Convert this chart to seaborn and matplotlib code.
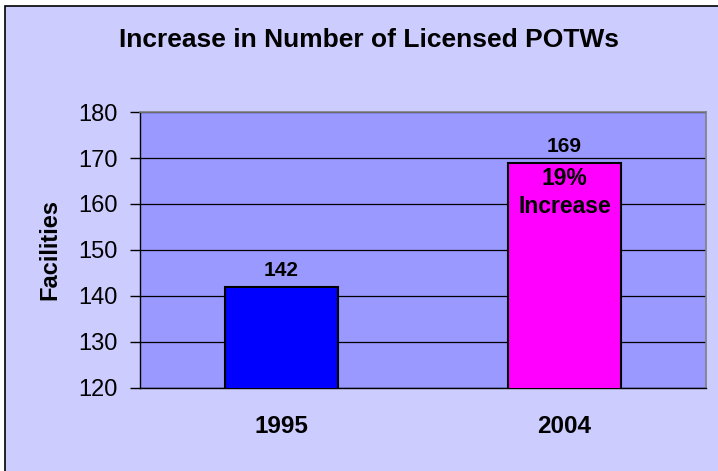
import pandas as pd
import matplotlib.pyplot as plt
import matplotlib.patches as mpatches
import seaborn as sns

years = ["1995", "2004"]
facilities = [142, 169]
bar_colors = ["#0000FF", "#FF00FF"]
note = "19%\nIncrease"

df = pd.DataFrame({"Year": years, "Facilities": facilities})

sns.set_style("white")
plt.rcParams["font.family"] = ["Liberation Sans", "DejaVu Sans"]
plt.rcParams["text.color"] = "black"
plt.rcParams["axes.labelcolor"] = "black"
plt.rcParams["xtick.color"] = "black"
plt.rcParams["ytick.color"] = "black"

fig = plt.figure(figsize=(7.18, 4.71), dpi=100, facecolor="white")
# outer chart frame
fig.patches.append(mpatches.Rectangle((5 / 718, -0.1), 1.2, 1 - 6 / 471 + 0.1,
                                      transform=fig.transFigure, facecolor="#CCCCFF",
                                      edgecolor="black", linewidth=1.2, zorder=-5))
ax = fig.add_axes([140 / 718, 1 - 388 / 471, 566 / 718, 276 / 471])
ax.set_facecolor("#9999FF")

sns.barplot(data=df, x="Year", y="Facilities", hue="Year", palette=bar_colors,
            saturation=1, width=0.4, edgecolor="black", linewidth=1.5,
            legend=False, ax=ax, zorder=3)

ax.set_ylim(120, 180)
ax.set_yticks(range(120, 181, 10))
ax.yaxis.grid(True, color="black", linewidth=0.9, zorder=1)
ax.set_axisbelow(True)
ax.tick_params(axis="y", left=True, length=7, width=1, color="black", labelsize=17, pad=9)
ax.tick_params(axis="x", bottom=False, labelsize=17.5, pad=16)
for lbl in ax.get_xticklabels():
    lbl.set_fontweight("bold")

ax.set_xlabel("")
ax.set_ylabel("Facilities", fontsize=17, fontweight="bold", labelpad=12)

for sp in ["left", "bottom"]:
    ax.spines[sp].set_color("black")
    ax.spines[sp].set_linewidth(1)
for sp in ["top", "right"]:
    ax.spines[sp].set_color("#808080")
    ax.spines[sp].set_linewidth(1.2)

for i, v in enumerate(facilities):
    ax.annotate(str(v), (i, v), xytext=(0, 5), textcoords="offset points",
                ha="center", va="bottom", fontsize=15, fontweight="bold")

ax.annotate(note, (1, facilities[1]), xytext=(0, -3), textcoords="offset points",
            ha="center", va="top", fontsize=16.5, fontweight="bold", linespacing=1.3)

fig.text(369 / 718, 1 - 40 / 471, "Increase in Number of Licensed POTWs", ha="center",
         va="center", fontsize=19, fontweight="bold")

fig.savefig("out.png", dpi=100)
